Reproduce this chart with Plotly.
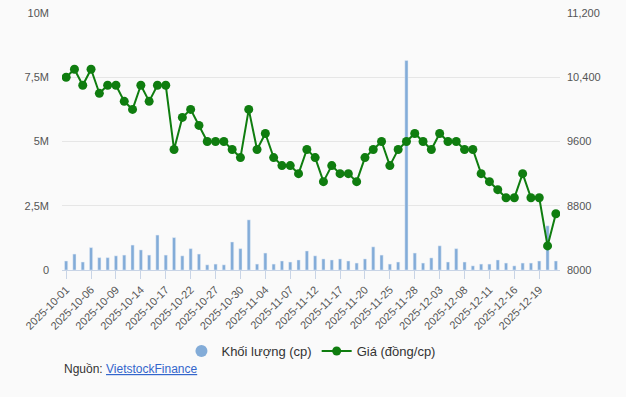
import plotly.graph_objects as go

dates = [
    "2025-10-01", "2025-10-02", "2025-10-03", "2025-10-06", "2025-10-07", "2025-10-08",
    "2025-10-09", "2025-10-10", "2025-10-13", "2025-10-14", "2025-10-15", "2025-10-16",
    "2025-10-17", "2025-10-20", "2025-10-21", "2025-10-22", "2025-10-23", "2025-10-24",
    "2025-10-27", "2025-10-28", "2025-10-29", "2025-10-30", "2025-10-31", "2025-11-03",
    "2025-11-04", "2025-11-05", "2025-11-06", "2025-11-07", "2025-11-10", "2025-11-11",
    "2025-11-12", "2025-11-13", "2025-11-14", "2025-11-17", "2025-11-18", "2025-11-19",
    "2025-11-20", "2025-11-21", "2025-11-24", "2025-11-25", "2025-11-26", "2025-11-27",
    "2025-11-28", "2025-12-01", "2025-12-02", "2025-12-03", "2025-12-04", "2025-12-05",
    "2025-12-08", "2025-12-09", "2025-12-10", "2025-12-11", "2025-12-12", "2025-12-15",
    "2025-12-16", "2025-12-17", "2025-12-18", "2025-12-19", "2025-12-22", "2025-12-23",
]

volume = [
    0.35, 0.62, 0.31, 0.87, 0.48, 0.48, 0.55, 0.58, 0.97, 0.78,
    0.58, 1.36, 0.58, 1.26, 0.55, 0.83, 0.62, 0.20, 0.23, 0.20,
    1.09, 0.83, 1.95, 0.23, 0.66, 0.23, 0.35, 0.31, 0.39, 0.74,
    0.55, 0.43, 0.39, 0.43, 0.35, 0.27, 0.43, 0.90, 0.58, 0.23,
    0.31, 8.15, 0.66, 0.27, 0.47, 0.94, 0.31, 0.83, 0.31, 0.16,
    0.23, 0.23, 0.39, 0.27, 0.16, 0.27, 0.27, 0.35, 1.72, 0.35,
]
volume = [v * 1e6 for v in volume]

price = [
    10400, 10500, 10300, 10500, 10200, 10300, 10300, 10100, 10000, 10300,
    10100, 10300, 10300, 9500, 9900, 10000, 9800, 9600, 9600, 9600,
    9500, 9400, 10000, 9500, 9700, 9400, 9300, 9300, 9200, 9500,
    9400, 9100, 9300, 9200, 9200, 9100, 9400, 9500, 9600, 9300,
    9500, 9600, 9700, 9600, 9500, 9700, 9600, 9600, 9500, 9500,
    9200, 9100, 9000, 8900, 8900, 9200, 8900, 8900, 8300, 8700,
]

left_vals = [0, 2.5e6, 5e6, 7.5e6, 10e6]
left_text = ["0", "2,5M", "5M", "7,5M", "10M"]
right_vals = [8000, 8800, 9600, 10400, 11200]
right_text = ["8000", "8800", "9600", "10,400", "11,200"]

bar_color = "#83acd8"
line_color = "#0f7d0f"
bg = "#fafafa"
font = "Liberation Sans, Arial, sans-serif"

W, H = 626, 397
ML, MR, MT, MB = 62, 66, 13, 127

fig = go.Figure()
fig.add_trace(go.Bar(
    x=dates, y=volume, name="Khối lượng (cp)", marker_color=bar_color,
    showlegend=False, yaxis="y",
))
fig.add_trace(go.Scatter(
    x=[None], y=[None], mode="markers", name="Khối lượng (cp)",
    marker=dict(color=bar_color, size=12, symbol="circle"), yaxis="y",
))
fig.add_trace(go.Scatter(
    x=dates, y=price, name="Giá (đồng/cp)", mode="lines+markers",
    line=dict(color=line_color, width=2),
    marker=dict(color=line_color, size=9), yaxis="y2",
))

tick_dates = dates[::3]
plot_h = H - MT - MB
plot_w = W - ML - MR

fig.update_layout(
    width=W, height=H,
    margin=dict(l=ML, r=MR, t=MT, b=MB, autoexpand=False),
    paper_bgcolor=bg, plot_bgcolor=bg,
    font=dict(family=font, size=11, color="#555555"),
    bargap=0.62,
    xaxis=dict(
        type="category", tickvals=tick_dates, ticktext=tick_dates,
        tickangle=-45, showgrid=False, ticks="outside", ticklen=8,
        tickcolor="#c8d4e6", showline=True, linecolor="#c8d4e6",
        tickfont=dict(size=11, color="#555555"), automargin=False,
        range=[-0.5, len(dates) - 0.5],
    ),
    yaxis=dict(
        range=[0, 10e6], tickvals=left_vals, ticktext=left_text,
        showgrid=True, gridcolor="#e6e6e6", zeroline=False, automargin=False,
        tickfont=dict(size=11, color="#555555"), ticklabelstandoff=12,
    ),
    yaxis2=dict(
        range=[8000, 11200], tickvals=right_vals, ticktext=right_text,
        overlaying="y", side="right", showgrid=False, zeroline=False,
        automargin=False,
        tickfont=dict(size=11, color="#555555"), ticklabelstandoff=6,
    ),
    legend=dict(
        orientation="h", x=0.52 - 10 / plot_w, xanchor="center",
        y=1 - 351 / H, yanchor="middle", yref="container",
        font=dict(size=13, color="#333333"),
        bgcolor="rgba(0,0,0,0)",
    ),
    annotations=[dict(
        text="Nguồn: <a href='https://finance.vietstock.vn' style='color:#3366cc'><u>VietstockFinance</u></a>",
        xref="paper", yref="paper", x=0.0, y=(H - MB - 369) / plot_h,
        xanchor="left", yanchor="middle", showarrow=False,
        font=dict(size=12, color="#333333"),
    )],
)
fig.write_html(
    "out.html",
    config={"displayModeBar": False},
    post_script="document.body.style.margin='0';document.body.style.background='%s';" % bg,
)
